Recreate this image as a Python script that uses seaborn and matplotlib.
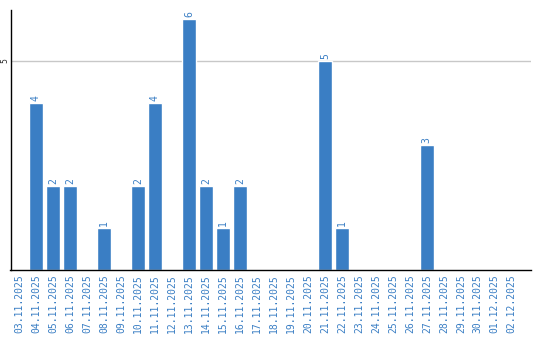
import matplotlib
matplotlib.use("Agg")
import matplotlib.pyplot as plt
import seaborn as sns
import pandas as pd

dates = ["03.11.2025", "04.11.2025", "05.11.2025", "06.11.2025", "07.11.2025",
         "08.11.2025", "09.11.2025", "10.11.2025", "11.11.2025", "12.11.2025",
         "13.11.2025", "14.11.2025", "15.11.2025", "16.11.2025", "17.11.2025",
         "18.11.2025", "19.11.2025", "20.11.2025", "21.11.2025", "22.11.2025",
         "23.11.2025", "24.11.2025", "25.11.2025", "26.11.2025", "27.11.2025",
         "28.11.2025", "29.11.2025", "30.11.2025", "01.12.2025", "02.12.2025"]
values = [0, 4, 2, 2, 0, 1, 0, 2, 4, 0, 6, 2, 1, 2, 0,
          0, 0, 0, 5, 1, 0, 0, 0, 0, 3, 0, 0, 0, 0, 0]

sns.set_style("white")
plt.rcParams['font.family'] = ['DejaVu Sans']

df = pd.DataFrame({"date": dates, "value": values})
fig = plt.figure(figsize=(5.4, 3.4), dpi=100)
ax = fig.add_axes([10.5/540, 70/340, 520/540, 260/340])

bar_color = "#3a7ec4"
sns.barplot(data=df, x="date", y="value", color=bar_color, saturation=1,
            width=0.82, ax=ax, order=dates)

ax.set_xlim(-0.5, len(dates) - 0.5 + 0.6)
ax.set_ylim(0, 6.22)
ax.set_yticks([5])
ax.set_yticklabels(["5"], rotation=90, fontsize=5.5, va="center")
ax.tick_params(axis="y", length=0, pad=1)
ax.yaxis.grid(True, color="#c8c8c8", linewidth=1)
ax.set_axisbelow(True)

ax.set_xticks(range(len(dates)))
ax.set_xticklabels(dates, rotation=90, fontsize=7, color="#3a7ec4",
                   family="DejaVu Sans Mono")
ax.tick_params(axis="x", length=0, pad=3)
ax.set_xlabel("")
ax.set_ylabel("")

for s in ["top", "right"]:
    ax.spines[s].set_visible(False)
for s in ["left", "bottom"]:
    ax.spines[s].set_color("black")
    ax.spines[s].set_linewidth(1)

for i, v in enumerate(values):
    if v > 0:
        ax.text(i, v + 0.05, str(v), rotation=90, ha="center", va="bottom",
                fontsize=7, color="#3a7ec4", family="DejaVu Sans Mono")

fig.savefig("out.png", dpi=100)
